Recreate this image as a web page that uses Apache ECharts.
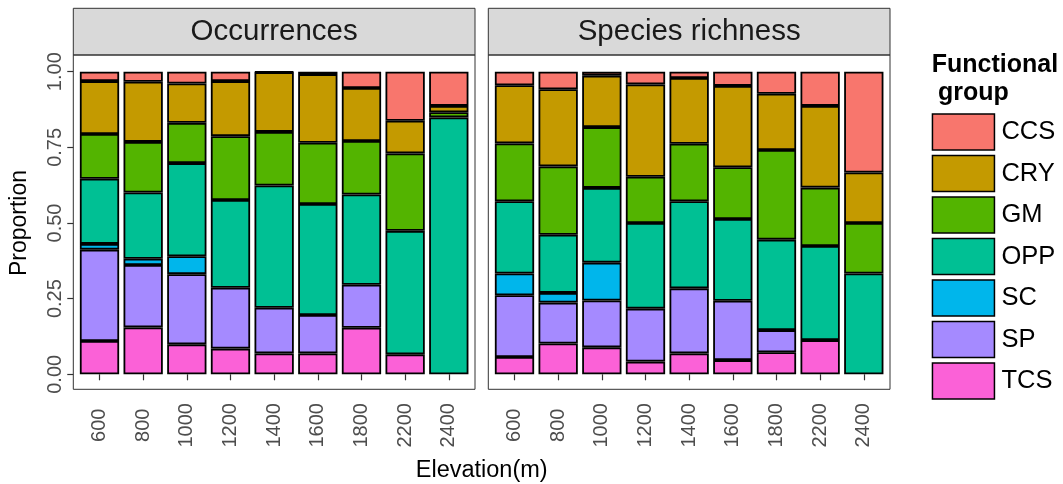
<!DOCTYPE html>
<html>
<head>
<meta charset="utf-8">
<script src="https://cdn.jsdelivr.net/npm/echarts@6/dist/echarts.min.js"></script>
<style>
html,body{margin:0;padding:0;background:#fff;}
#chart{width:1063px;height:484px;}
</style>
</head>
<body>
<div id="chart"></div>
<script>
// ---- Data ----
const elevations = ['600','800','1000','1200','1400','1600','1800','2200','2400'];
const groups = ['CCS','CRY','GM','OPP','SC','SP','TCS'];
const groupColors = ['#F8766D','#C49A00','#53B400','#00C094','#00B6EB','#A58AFF','#FB61D7'];
const panelTitles = ['Occurrences','Species richness'];
const yTickLabels = ['0.00','0.25','0.50','0.75','1.00'];

// Occurrences (proportions per elevation)
const occCCS = [0.031,0.033,0.039,0.031,0.002,0.008,0.054,0.162,0.113];
const occCRY = [0.175,0.199,0.130,0.182,0.197,0.227,0.175,0.108,0.021];
const occGM  = [0.148,0.167,0.133,0.211,0.177,0.202,0.177,0.256,0.017];
const occOPP = [0.215,0.219,0.308,0.290,0.404,0.367,0.298,0.408,0.849];
const occSC  = [0.019,0.021,0.059,0,0,0,0,0,0];
const occSP  = [0.302,0.206,0.232,0.201,0.151,0.127,0.142,0,0];
const occTCS = [0.110,0.155,0.099,0.085,0.069,0.069,0.154,0.066,0];

// Species richness (proportions per elevation)
const sprCCS = [0.045,0.058,0.013,0.042,0.021,0.047,0.073,0.113,0.333];
const sprCRY = [0.192,0.255,0.170,0.305,0.217,0.269,0.186,0.270,0.167];
const sprGM  = [0.191,0.226,0.201,0.153,0.190,0.171,0.296,0.193,0.167];
const sprOPP = [0.239,0.192,0.247,0.283,0.288,0.270,0.299,0.311,0.333];
const sprSC  = [0.072,0.032,0.125,0,0,0,0,0,0];
const sprSP  = [0.204,0.135,0.155,0.175,0.215,0.196,0.073,0,0];
const sprTCS = [0.057,0.102,0.089,0.042,0.069,0.047,0.073,0.113,0];

// ---- Chart ----
const FONT = 'Liberation Sans, Arial, Helvetica, sans-serif';
const panelData = [
  {CCS:occCCS, CRY:occCRY, GM:occGM, OPP:occOPP, SC:occSC, SP:occSP, TCS:occTCS},
  {CCS:sprCCS, CRY:sprCRY, GM:sprGM, OPP:sprOPP, SC:sprSC, SP:sprSP, TCS:sprTCS}
];
// stacking order bottom -> top
const stackOrder = ['TCS','SP','SC','OPP','GM','CRY','CCS'];

const panels = [
  {px:73.3, pw:401.7},
  {px:488.3, pw:401.7}
];
const stripTop = 8.3, stripBottom = 55, panelBottom = 389.3;
const unit = 401.7/9.2;

const grids = panels.map(p => ({
  left: p.px + 0.1*unit, top: 71.7, width: 9*unit, height: 302.6, containLabel:false
}));

const xAxes = panels.map((p,i) => ({
  type:'category', gridIndex:i, data:elevations, offset:15,
  axisLine:{show:false},
  axisTick:{show:true, alignWithLabel:true, length:6, lineStyle:{color:'#333', width:1.2}},
  axisLabel:{interval:0, rotate:90, align:'center', verticalAlign:'middle', margin:36,
    fontSize:20, color:'#4D4D4D', fontFamily:FONT},
  splitLine:{show:false}
}));

const yAxes = panels.map((p,i) => ({
  type:'value', gridIndex:i, min:0, max:1, interval:0.25,
  offset:4.4,
  axisLine:{show:false},
  axisTick:{show:i===0, length:6, lineStyle:{color:'#333', width:1.2}},
  axisLabel:{show:i===0, rotate:90, align:'center', verticalAlign:'middle', margin:18,
    fontSize:20, color:'#4D4D4D', fontFamily:FONT,
    formatter:(v)=> yTickLabels[Math.round(v/0.25)]},
  splitLine:{show:false},
  name: i===0 ? 'Proportion' : '',
  nameLocation:'middle', nameRotate:90, nameGap:42,
  nameTextStyle:{fontSize:23, color:'#000', fontFamily:FONT}
}));

const series = [];
panelData.forEach((pd, pi) => {
  stackOrder.forEach(g => {
    const gi = groups.indexOf(g);
    series.push({
      name:g, type:'bar', stack:'p'+pi, xAxisIndex:pi, yAxisIndex:pi,
      barWidth:'90%',
      data: pd[g].map(v => v === 0 ? null : v),
      itemStyle:{color:groupColors[gi], borderColor:'#000', borderWidth:1.8},
      emphasis:{disabled:true}
    });
  });
});

const graphics = [];
panels.forEach((p,i) => {
  graphics.push({type:'rect', z:-1, shape:{x:p.px, y:stripTop, width:p.pw, height:stripBottom-stripTop},
    style:{fill:'#D9D9D9', stroke:'#333', lineWidth:1}});
  graphics.push({type:'rect', z:100, shape:{x:p.px, y:stripBottom, width:p.pw, height:panelBottom-stripBottom},
    style:{fill:null, stroke:'#333', lineWidth:1}});
  graphics.push({type:'text', z:101, x:p.px+p.pw/2, y:(stripTop+stripBottom)/2,
    style:{text:panelTitles[i], font:'29.5px '+FONT, fill:'#1A1A1A', align:'center', verticalAlign:'middle'}});
});
graphics.push({type:'text', x:481.7, y:471,
  style:{text:'Elevation(m)', font:'23.5px '+FONT, fill:'#000', align:'center', verticalAlign:'middle'}});
graphics.push({type:'text', x:931.7, y:65,
  style:{text:'Functional', font:'bold 25px '+FONT, fill:'#000', align:'left', verticalAlign:'middle'}});
graphics.push({type:'text', x:938, y:93.5,
  style:{text:'group', font:'bold 25px '+FONT, fill:'#000', align:'left', verticalAlign:'middle'}});

const chart = echarts.init(document.getElementById('chart'), null, {renderer:'canvas'});
chart.setOption({
  animation:false,
  backgroundColor:'#fff',
  textStyle:{fontFamily:FONT},
  grid:grids,
  xAxis:xAxes,
  yAxis:yAxes,
  legend:{
    data:groups, orient:'vertical', left:931.7, top:113.3, padding:0,
    itemWidth:62, itemHeight:36, itemGap:4, icon:'rect', selectedMode:false,
    itemStyle:{borderColor:'#000', borderWidth:1.5},
    textStyle:{fontSize:25.5, color:'#000', fontFamily:FONT, padding:[0,0,0,2]}
  },
  tooltip:{show:false},
  series:series,
  graphic:graphics
});
</script>
</body>
</html>
